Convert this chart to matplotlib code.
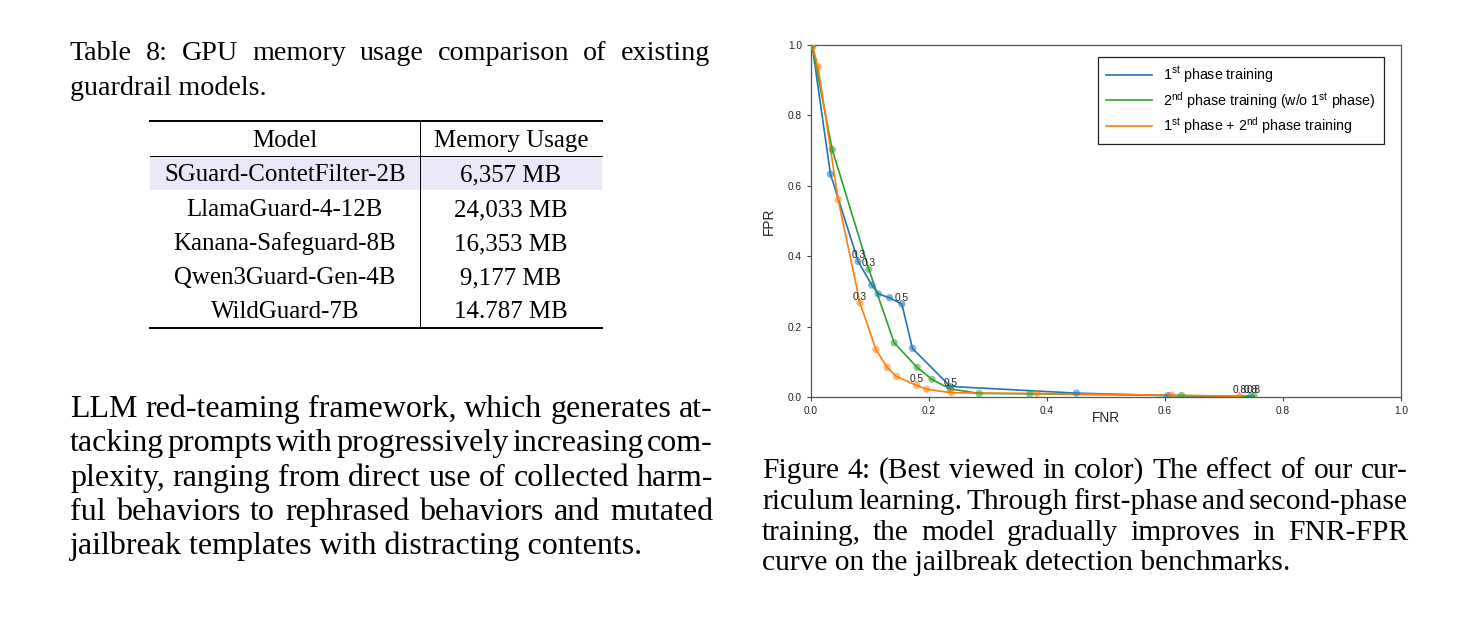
import numpy as np
import matplotlib
matplotlib.use("Agg")
import matplotlib.pyplot as plt
from matplotlib.patches import Rectangle

W, H = 1478, 625

# ---- chart values ----
fnr_p1 = [0.002, 0.033, 0.080, 0.103, 0.114, 0.133, 0.154, 0.172, 0.236, 0.450, 0.605, 0.745]
fpr_p1 = [0.998, 0.633, 0.385, 0.318, 0.293, 0.282, 0.264, 0.138, 0.030, 0.011, 0.004, 0.001]

fnr_p2 = [0.002, 0.036, 0.098, 0.141, 0.180, 0.205, 0.236, 0.285, 0.371, 0.628, 0.751]
fpr_p2 = [0.998, 0.703, 0.363, 0.154, 0.084, 0.050, 0.023, 0.010, 0.009, 0.004, 0.002]

fnr_p12 = [0.003, 0.012, 0.046, 0.083, 0.110, 0.129, 0.145, 0.179, 0.196, 0.238, 0.383, 0.611, 0.727]
fpr_p12 = [0.995, 0.938, 0.561, 0.267, 0.135, 0.084, 0.058, 0.033, 0.022, 0.012, 0.010, 0.005, 0.002]

thr_labels = ["0.3", "0.5", "0.8"]
thr_idx_p1 = [2, 6, 11]
thr_idx_p2 = [2, 6, 10]
thr_idx_p12 = [3, 7, 12]

series_names = ["1$^{st}$ phase training",
                "2$^{nd}$ phase training (w/o 1$^{st}$ phase)",
                "1$^{st}$ phase + 2$^{nd}$ phase training"]

# ---- table values ----
table_header = ["Model", "Memory Usage"]
models = ["SGuard-ContetFilter-2B", "LlamaGuard-4-12B", "Kanana-Safeguard-8B",
          "Qwen3Guard-Gen-4B", "WildGuard-7B"]
memory = ["6,357 MB", "24,033 MB", "16,353 MB", "9,177 MB", "14.787 MB"]

table_caption = ["Table 8: GPU memory usage comparison of existing",
                 "guardrail models."]
paragraph = ["LLM red-teaming framework, which generates at-",
             "tacking prompts with progressively increasing com-",
             "plexity, ranging from direct use of collected harm-",
             "ful behaviors to rephrased behaviors and mutated",
             "jailbreak templates with distracting contents."]
fig_caption = ["Figure 4: (Best viewed in color) The effect of our cur-",
               "riculum learning. Through first-phase and second-phase",
               "training, the model gradually improves in FNR-FPR",
               "curve on the jailbreak detection benchmarks."]

plt.rcParams['mathtext.fontset'] = 'custom'
plt.rcParams['mathtext.rm'] = 'Liberation Sans'
plt.rcParams['mathtext.default'] = 'rm'

SERIF = "Liberation Serif"
SANS = "Liberation Sans"

fig = plt.figure(figsize=(W / 100, H / 100), dpi=100)
bg = fig.add_axes([0, 0, 1, 1])
bg.set_xlim(0, W)
bg.set_ylim(H, 0)
bg.axis('off')
renderer = fig.canvas.get_renderer()


def text_width(s, size, family=SERIF):
    t = bg.text(0, 0, s, fontsize=size, family=family)
    w = t.get_window_extent(renderer).width
    t.remove()
    return w


def fit_size(s, width, family=SERIF):
    return 10 * width / text_width(s, 10, family)


def put_line(s, x0, x1, base, size, justify=True):
    words = s.split(" ")
    if not justify or len(words) == 1:
        bg.text(x0, base, s, fontsize=size, family=SERIF, va='baseline')
        return
    widths = [text_width(w, size) for w in words]
    gap = (x1 - x0 - sum(widths)) / (len(words) - 1)
    x = x0
    for w, wd in zip(words, widths):
        bg.text(x, base, w, fontsize=size, family=SERIF, va='baseline')
        x += wd + gap


# table caption
cap_size = fit_size(table_caption[1], 197)
put_line(table_caption[0], 70, 710, 60, cap_size)
put_line(table_caption[1], 70, 710, 95, cap_size, justify=False)

# table
cell_size = fit_size(models[0], 242)
em = cell_size * 100 / 72
bg.add_patch(Rectangle((150, 157), 452, 33, color='#e8e8f8', lw=0))
bg.plot([150, 602], [121, 121], color='black', lw=1.4)
bg.plot([150, 602], [156, 156], color='black', lw=0.7)
bg.plot([150, 602], [328, 328], color='black', lw=1.4)
bg.plot([420, 420], [121, 328], color='black', lw=0.7)
row_y = [139, 173, 208, 242, 276, 310]
bg.text(285, row_y[0] + 0.33 * em, table_header[0], fontsize=cell_size, family=SERIF,
        ha='center', va='baseline')
bg.text(511, row_y[0] + 0.33 * em, table_header[1], fontsize=cell_size, family=SERIF,
        ha='center', va='baseline')
for yc, m, mem in zip(row_y[1:], models, memory):
    bg.text(285, yc + 0.33 * em, m, fontsize=cell_size, family=SERIF, ha='center', va='baseline')
    bg.text(511, yc + 0.33 * em, mem, fontsize=cell_size, family=SERIF, ha='center', va='baseline')

# paragraph
par_size = fit_size(paragraph[-1], 574)
par_base = [417, 451, 486, 520, 554]
for i, (line, b) in enumerate(zip(paragraph, par_base)):
    put_line(line, 70, 713, b, par_size, justify=(i < len(paragraph) - 1))

# figure caption
fc_size = fit_size(fig_caption[-1], 530)
fc_base = [478, 509, 540, 570]
for i, (line, b) in enumerate(zip(fig_caption, fc_base)):
    put_line(line, 762, 1408, b, fc_size, justify=(i < len(fig_caption) - 1))

# ---- the chart ----
ax = fig.add_axes([811 / W, 1 - 397 / H, 590 / W, 352 / H])
colors = ['#1f77b4', '#2ca02c', '#ff7f0e']
all_fnr = [fnr_p1, fnr_p2, fnr_p12]
all_fpr = [fpr_p1, fpr_p2, fpr_p12]
all_idx = [thr_idx_p1, thr_idx_p2, thr_idx_p12]
for fnr, fpr, idx, col, name in zip(all_fnr, all_fpr, all_idx, colors, series_names):
    ax.plot(fnr, fpr, color=col, lw=1.2, label=name)
    ax.scatter(fnr, fpr, color=col, s=28, alpha=0.55, edgecolors='none', zorder=3)
    for i, lab in zip(idx, thr_labels):
        ax.annotate(lab, (fnr[i], fpr[i]), textcoords='offset points', xytext=(0, 1),
                    ha='center', va='bottom', fontsize=7.3, family=SANS, color='#222222')

ax.set_xlim(0, 1)
ax.set_ylim(0, 1)
ax.set_xticks(np.arange(0, 1.01, 0.2))
ax.set_yticks(np.arange(0, 1.01, 0.2))
ax.tick_params(labelsize=7.3, length=3, width=0.8, color='#444444', labelcolor='#222222')
for lab in ax.get_xticklabels() + ax.get_yticklabels():
    lab.set_family(SANS)
for sp in ax.spines.values():
    sp.set_color('#555555')
    sp.set_linewidth(0.9)
ax.set_xlabel('FNR', fontsize=9.8, family=SANS, color='#222222')
ax.set_ylabel('FPR', fontsize=9.8, family=SANS, color='#222222')
ax.xaxis.set_label_coords(0.5, -0.040)
ax.yaxis.set_label_coords(-0.059, 0.5)

leg = ax.legend(loc='upper right', bbox_to_anchor=(0.971, 0.966), borderaxespad=0,
                fancybox=False, edgecolor='#222222', framealpha=1, handlelength=3.2,
                borderpad=0.55, labelspacing=0.3,
                prop={'family': SANS, 'size': 10.3})
leg.get_frame().set_linewidth(0.9)

fig.savefig('out.png', dpi=100)
